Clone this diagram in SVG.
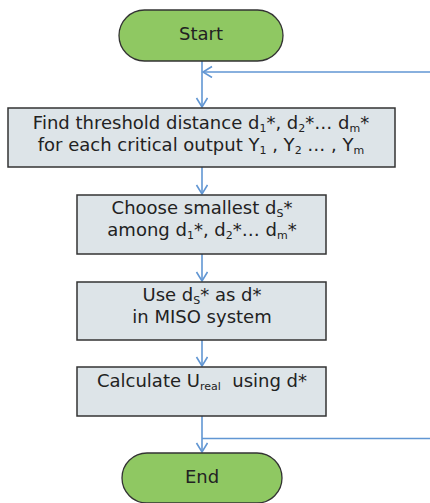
<svg xmlns="http://www.w3.org/2000/svg" width="430" height="503" viewBox="0 0 430 503">
  <style>
    .term { fill: #8fc862; stroke: #333; stroke-width: 1.3; }
    .proc { fill: #dde4e8; stroke: #333; stroke-width: 1.5; }
    .lbl { font-family: "DejaVu Sans", Verdana, sans-serif; font-size: 18px; fill: #222; text-anchor: middle; }
    .sub { font-size: 11px; }
    .flow { fill: none; stroke: #6196d3; stroke-width: 1.6; }
  </style>
  <defs>
    <marker id="arrow" markerUnits="userSpaceOnUse" markerWidth="14" markerHeight="14" refX="10" refY="6" orient="auto">
      <path d="M1,0.5 L10,6 L1,11.5" fill="none" stroke="#6196d3" stroke-width="1.6"/>
    </marker>
  </defs>

  <rect width="430" height="503" fill="#ffffff"/>

  <g id="connectors">
    <line class="flow" x1="202" y1="61" x2="202" y2="107" marker-end="url(#arrow)"/>
    <line class="flow" x1="430" y1="72" x2="203" y2="72" marker-end="url(#arrow)"/>
    <line class="flow" x1="202" y1="167" x2="202" y2="194" marker-end="url(#arrow)"/>
    <line class="flow" x1="202" y1="254" x2="202" y2="281" marker-end="url(#arrow)"/>
    <line class="flow" x1="202" y1="340" x2="202" y2="366" marker-end="url(#arrow)"/>
    <line class="flow" x1="202" y1="416" x2="202" y2="452" marker-end="url(#arrow)"/>
    <line class="flow" x1="202" y1="438.5" x2="430" y2="438.5"/>
  </g>

  <g id="start">
    <rect class="term" x="119" y="10" width="164" height="51" rx="25.5"/>
    <text class="lbl" x="201" y="40">Start</text>
  </g>

  <g id="find-thresholds">
    <rect class="proc" x="8" y="108" width="387" height="59"/>
    <text class="lbl" x="201" y="129">Find threshold distance d<tspan class="sub" dy="3">1</tspan><tspan dy="-3">*, d</tspan><tspan class="sub" dy="3">2</tspan><tspan dy="-3">*… d</tspan><tspan class="sub" dy="3">m</tspan><tspan dy="-3">*</tspan></text>
    <text class="lbl" x="201" y="151">for each critical output Y<tspan class="sub" dy="3">1</tspan><tspan dy="-3"> , Y</tspan><tspan class="sub" dy="3">2</tspan><tspan dy="-3"> … , Y</tspan><tspan class="sub" dy="3">m</tspan></text>
  </g>

  <g id="choose-smallest">
    <rect class="proc" x="77" y="195" width="249" height="59"/>
    <text class="lbl" x="202" y="214">Choose smallest d<tspan class="sub" dy="3">S</tspan><tspan dy="-3">*</tspan></text>
    <text class="lbl" x="202" y="236">among d<tspan class="sub" dy="3">1</tspan><tspan dy="-3">*, d</tspan><tspan class="sub" dy="3">2</tspan><tspan dy="-3">*… d</tspan><tspan class="sub" dy="3">m</tspan><tspan dy="-3">*</tspan></text>
  </g>

  <g id="use-ds">
    <rect class="proc" x="77" y="282" width="249" height="58"/>
    <text class="lbl" x="202" y="301">Use d<tspan class="sub" dy="3">S</tspan><tspan dy="-3">* as d*</tspan></text>
    <text class="lbl" x="202" y="323">in MISO system</text>
  </g>

  <g id="calculate">
    <rect class="proc" x="77" y="367" width="249" height="49"/>
    <text class="lbl" x="202" y="387" xml:space="preserve">Calculate U<tspan class="sub" dy="3">real</tspan><tspan dy="-3">  using d*</tspan></text>
  </g>

  <g id="end">
    <rect class="term" x="122" y="453" width="160" height="50" rx="25"/>
    <text class="lbl" x="202" y="483">End</text>
  </g>
</svg>
